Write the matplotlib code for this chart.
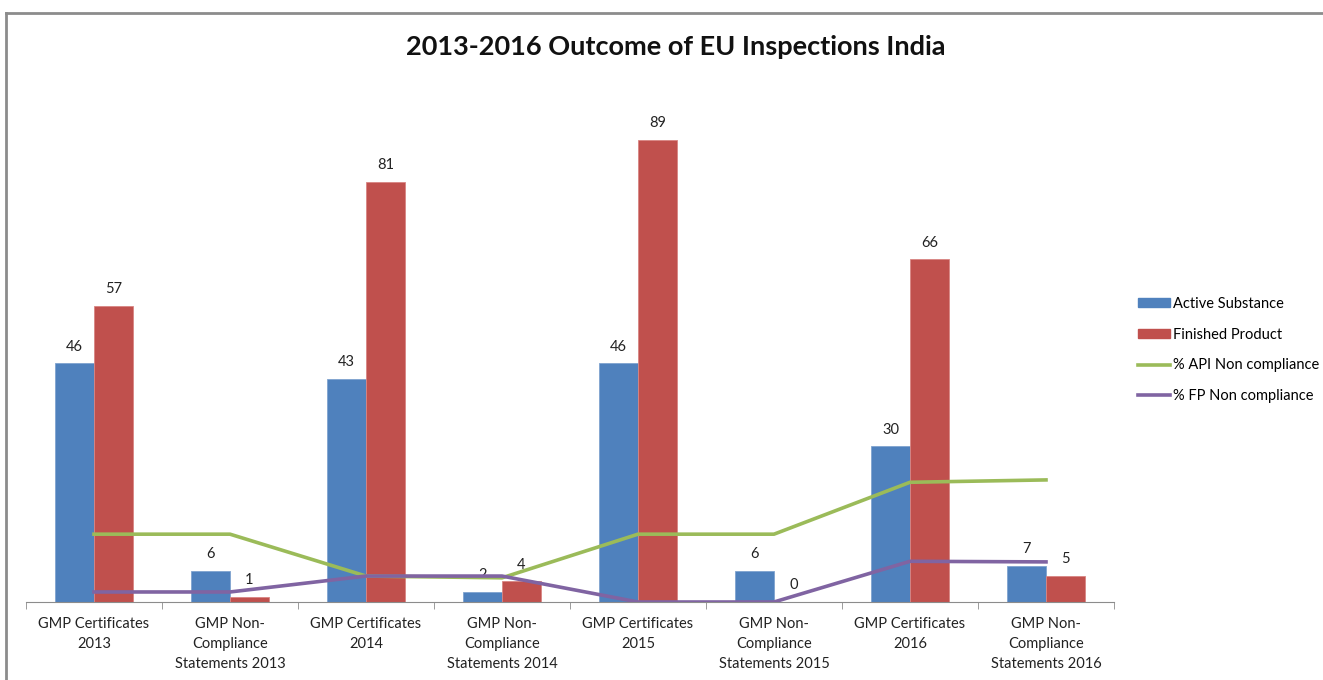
import numpy as np
import matplotlib.pyplot as plt
from matplotlib.patches import Patch
from matplotlib.lines import Line2D

plt.rcParams['font.family'] = ['Lato', 'DejaVu Sans']

categories = ['GMP Certificates\n2013', 'GMP Non-\nCompliance\nStatements 2013',
              'GMP Certificates\n2014', 'GMP Non-\nCompliance\nStatements 2014',
              'GMP Certificates\n2015', 'GMP Non-\nCompliance\nStatements 2015',
              'GMP Certificates\n2016', 'GMP Non-\nCompliance\nStatements 2016']
active_substance = [46, 6, 43, 2, 46, 6, 30, 7]
finished_product = [57, 1, 81, 4, 89, 0, 66, 5]
api_noncompliance = [11.5, 11.5, 4.4, 4.1, 11.5, 11.5, 20.3, 20.7]
fp_noncompliance = [1.7, 1.7, 4.4, 4.4, 0.0, 0.0, 6.9, 6.8]

blue = '#4F81BD'
red = '#C0504D'
green = '#9BBB59'
purple = '#8064A2'

fig = plt.figure(figsize=(13.23, 6.8), dpi=100)
ax = fig.add_axes([26 / 1323, 1 - 602 / 680, (1114 - 26) / 1323, 519 / 680])

x = np.arange(len(categories))
w = 0.285
b1 = ax.bar(x - w / 2, active_substance, w, color=blue, edgecolor='#7FA3CF', linewidth=0.6)
b2 = ax.bar(x + w / 2, finished_product, w, color=red, edgecolor='#D98583', linewidth=0.6)
for bars in (b1, b2):
    for r in bars:
        ax.annotate(str(int(r.get_height())), (r.get_x() + r.get_width() / 2, r.get_height()),
                    xytext=(0, 7), textcoords='offset points', ha='center', va='bottom',
                    fontsize=10.5, color='#222222')

ax.set_xlim(-0.5, len(categories) - 0.5)
ax.set_ylim(0, 100)
for s in ('top', 'right', 'left'):
    ax.spines[s].set_visible(False)
ax.spines['bottom'].set_color('#8C8C8C')
ax.set_yticks([])
ax.set_xticks(x)
ax.set_xticklabels(categories, fontsize=10.5, color='#222222', linespacing=1.55)
ax.tick_params(axis='x', which='major', length=0, pad=11)
ax.set_xticks(np.arange(-0.5, len(categories), 1), minor=True)
ax.tick_params(axis='x', which='minor', length=5, color='#8C8C8C')

ax2 = ax.twinx()
ax2.plot(x, api_noncompliance, color=green, lw=2.6, solid_joinstyle='round')
ax2.plot(x, fp_noncompliance, color=purple, lw=2.6, solid_joinstyle='round')
ax2.set_ylim(0, 88)
ax2.axis('off')

fig.text(676 / 1323, 1 - 47 / 680, '2013-2016 Outcome of EU Inspections India',
         ha='center', va='center', fontsize=19.5, fontweight='bold', color='#111111')

handles = [Patch(color=blue), Patch(color=red),
           Line2D([], [], color=green, lw=2.6), Line2D([], [], color=purple, lw=2.6)]
labels = ['Active Substance', 'Finished Product', '% API Non compliance', '% FP Non compliance']
fig.legend(handles, labels, loc='upper left', bbox_to_anchor=(1132 / 1323, 1 - 291 / 680),
           frameon=False, fontsize=10.5, handlelength=2.2, handleheight=0.55,
           handletextpad=0.2, labelspacing=1.15, borderaxespad=0)

# gray frame of the original chart area
fig.add_artist(Line2D([6 / 1323, 6 / 1323], [0, 1 - 13 / 680], color='#8C8C8C', lw=2,
                      transform=fig.transFigure))
fig.add_artist(Line2D([6 / 1323, 1], [1 - 13 / 680, 1 - 13 / 680], color='#8C8C8C', lw=2,
                      transform=fig.transFigure))

fig.savefig('out.png', dpi=100)
